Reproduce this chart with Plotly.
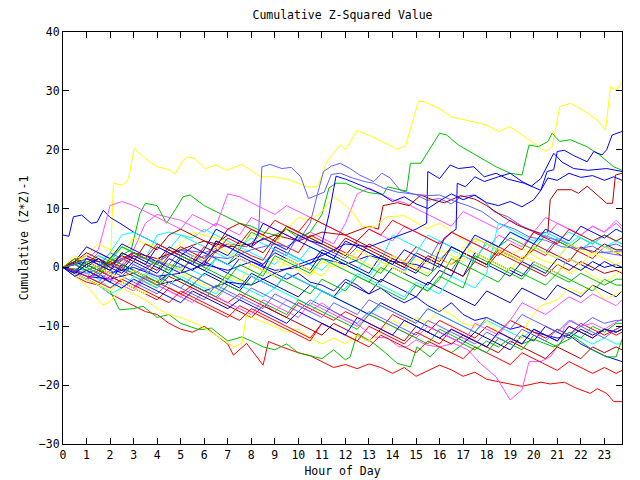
import plotly.graph_objects as go

# ---------------- data ----------------
HALF_HOURS = [0, 0.5, 1, 1.5, 2, 2.5, 3, 3.5, 4, 4.5, 5, 5.5, 6, 6.5, 7, 7.5, 8, 8.5, 9, 9.5,
              10, 10.5, 11, 11.5, 12, 12.5, 13, 13.5, 14, 14.5, 15, 15.5, 16, 16.5, 17, 17.5,
              18, 18.5, 19, 19.5, 20, 20.5, 21, 21.5, 22, 22.5, 23, 23.5, 23.75]

X_TICKS = list(range(0, 24))
Y_TICKS = [-30, -20, -10, 0, 10, 20, 30, 40]

# traced outlier series (x breakpoints, y values)
yellow_top_x = [0, 0.5, 1, 1.5, 2.0, 2.14, 2.5, 2.7, 2.8, 3.02, 3.5, 4.0, 4.5, 4.76, 5.1, 5.3, 5.6, 6.04, 6.5, 6.96,
                7.6, 8.2, 8.4, 9.0, 9.65, 10.36, 10.8, 11.07, 11.2, 11.78, 12.0, 12.5, 13.3, 14.2, 14.55, 15.1, 15.3,
                16.0, 16.5, 17.7, 18.0, 18.5, 19.0, 19.4, 20.0, 20.5, 20.78, 21.1, 21.56, 22.1, 22.7, 23.05, 23.26,
                23.5, 23.75]
yellow_top_y = [0, 1, 0.5, -0.5, -1, 14.3, 14, 14.5, 15.4, 20.2, 18.5, 17.1, 16.6, 15.9, 18.2, 18.8, 18.5, 16.8, 17.4,
                16.5, 17.5, 16, 15.4, 15.4, 14.85, 13.7, 13.7, 16.3, 18, 20.8, 20, 23.3, 21.9, 20.1, 20.6, 28.2, 28.2,
                27, 25.6, 24.5, 24.2, 23.1, 23.9, 22.8, 21.1, 19.7, 20.5, 27.3, 27.9, 26.7, 25.05, 23.3, 30.7, 30.1,
                31.5]

medblue_a_x = [0, 1, 2, 3, 4, 5, 6, 7, 7.8, 8.3, 8.45, 8.8, 9.3, 9.7, 10.1, 10.43, 10.8, 11.07, 11.4, 11.78, 12.2,
               12.6, 13.2, 13.55, 13.9, 14.33, 15.04, 15.46, 16, 16.5, 16.9, 17.45, 17.9, 18.3, 18.9, 19.5, 20, 20.6,
               21.2, 21.8, 22.5, 23, 23.75]
medblue_a_y = [0, 1.5, 0.5, 2, 1, 3, 2.5, 4, 3.5, 5.2, 17.1, 17.5, 16.8, 17, 15.4, 11.7, 12.3, 16.3, 17.2, 17.7, 16.8,
               15.7, 14.6, 16, 15.2, 13.1, 12.3, 11.4, 11.7, 10.8, 12, 12.3, 11.2, 9.5, 8.6, 7, 6.2, 5, 4.5, 3.2, 3.6,
               2.5, 2]

medblue_b_x = [0, 1, 2, 3, 4, 5, 6, 7, 8, 9, 9.5, 10.1, 10.5, 10.8, 11.1, 11.4, 11.78, 12.3, 12.8, 13.2, 13.6, 14.2,
               14.8, 15.5, 16, 16.6, 17.2, 17.8, 18.5, 19.2, 19.8, 20.5, 21.2, 22, 22.8, 23.75]
medblue_b_y = [0, -1, 0.5, -1, 1, 0, 2, 1.5, 3, 4, 3.5, 5, 7.5, 12.3, 12.8, 15.8, 16, 15.2, 14.6, 14.3, 13.5, 12.8,
               12.5, 12.2, 12.3, 11.3, 10.5, 9.5, 7.5, 6.5, 5.2, 4.6, 3.5, 3.2, 2.5, 2.8]

blue_hi_x = [0, 1, 2, 3, 4, 5, 6, 7, 8, 9, 10, 11, 12, 13, 14, 15, 15.45, 15.5, 16, 16.45, 16.8, 17.45, 17.9, 18.4,
             18.9, 19.6, 20.3, 20.57, 20.85, 21, 21.3, 21.7, 22.27, 22.55, 22.9, 23.1, 23.33, 23.75]
blue_hi_y = [0, -1.5, -2, -1, -3, -2, -4, -2.5, -3, -1, 0.5, 2, 4, 3.5, 5, 6.5, 7.5, 16.3, 15.1, 17.4, 16.8, 17.1,
             15.4, 16, 15, 14.3, 13.1, 16.3, 16.6, 19.7, 19.9, 19, 17.95, 19.7, 19.1, 20, 22.5, 23.1]

blue_b_x = [0, 1, 2, 3, 4, 5, 6, 7, 8, 9, 10, 11, 12, 13, 14, 15, 15.7, 15.9, 16.2, 16.7, 16.75, 17.1, 17.5, 17.9,
            18.5, 19, 19.5, 19.9, 20.3, 20.85, 21.2, 21.7, 22.3, 23.1, 23.75]
blue_b_y = [0, 1, -1, 0, -1.5, -1, 0.5, -0.5, 1, -0.5, 0, 1.5, 0.5, 2, 1, 0.5, -0.5, 2, 5, 6.5, 14.3, 13.7, 15.4,
            14.6, 15.4, 16, 14.6, 13.8, 15.1, 19.4, 17.9, 16.8, 16.5, 16.8, 16.3]

blue_c_x = [0, 0.5, 1, 1.5, 2, 2.5, 3, 3.5, 4, 4.5, 5, 5.5, 6, 6.5, 7, 7.5, 8, 8.5, 9, 9.5, 10, 10.5, 11, 11.3, 11.6,
            12, 12.5, 13, 13.5, 14, 14.5, 15, 15.5, 16, 16.5, 17, 17.5, 18, 18.5, 19, 19.5, 20, 20.3, 20.6, 21, 21.5,
            22, 22.5, 23, 23.4, 23.75]
blue_c_y = [0, -1, 0.5, 1.5, 0, -1, 1, 0, -1, 1.5, 0.5, -0.5, 1, 3, 2, 4.5, 3.5, 5, 4, 3, 5.5, 4.5, 4, 9, 15.5, 15,
            14.2, 13.4, 12.5, 11.2, 12, 10.8, 10, 11.3, 12.5, 11.5, 12.3, 11, 10.5, 11.2, 10.3, 11.5, 13.1, 15.2, 14.8,
            16, 15.3, 15.6, 14.8, 15.4, 14.8]

green_hi_x = [0, 1, 2, 2.9, 3.27, 3.5, 4.0, 4.4, 4.8, 5.1, 5.4, 6, 6.5, 7, 7.5, 8, 8.5, 9, 9.5, 10, 10.5, 11, 11.3,
              11.6, 12, 12.5, 13, 13.6, 13.8, 14.3, 14.6, 14.76, 15.2, 16, 16.3, 16.8, 17.7, 18.4, 19, 19.5, 19.8,
              20.2, 20.6, 20.78, 21.1, 21.55, 22.27, 22.8, 23.4, 23.75]
green_hi_y = [0, -0.5, 1, 3, 9.2, 10.9, 10.5, 7.5, 10, 12, 12.3, 10.5, 9.5, 8.5, 7.5, 7, 6, 5.5, 6.5, 5, 6, 9, 13.5,
              14.3, 14.3, 13.4, 12.7, 12.4, 13.7, 13.2, 13, 17.7, 17.7, 22.8, 22.5, 20.8, 18.8, 17.1, 16, 15.7, 20.8,
              20.5, 21.4, 22.8, 21.4, 21.7, 20.5, 19.1, 17.1, 16.5]

darkred_hi_x = [0, 1, 2, 3, 4, 5, 6, 7, 8, 9, 10, 11, 12, 13, 13.4, 13.6, 14.2, 14.7, 15.2, 15.7, 16.2, 16.9, 17.5,
                18, 18.7, 19.3, 19.8, 20.3, 20.6, 20.7, 20.85, 21, 21.6, 21.9, 22.27, 22.7, 23.1, 23.35, 23.47, 23.75]
darkred_hi_y = [0, 1.5, 0.5, 2.5, 1.5, 3, 4.5, 3.5, 4, 5.5, 4.5, 6, 5.5, 7, 6.5, 10.5, 11, 10.5, 12.3, 11.5, 11,
                12.2, 11.6, 10.5, 8.6, 7.2, 6.4, 5.8, 6, 11.5, 12.3, 13.2, 13.2, 12.6, 13.8, 12.3, 10.9, 10.9, 15.7, 16]

magenta_low_x = [0, 0.5, 1, 1.3, 2, 2.5, 3, 3.4, 4, 4.5, 5, 5.5, 6, 6.5, 7, 7.5, 8, 8.5, 9, 9.5, 10, 10.5, 11, 11.5,
                 12, 12.3, 13.2, 13.8, 14.26, 14.6, 15.0, 15.46, 16, 16.6, 17.2, 17.73, 18.4, 19, 19.5, 19.8, 20.3,
                 20.7, 21.2, 21.3, 21.6, 22, 22.5, 23, 23.4, 23.75]
magenta_low_y = [0, -1, -2, 0.5, -1.5, -2.5, -3.5, -1.5, -3, -4, -5, -3.5, -4.5, -5.5, -3, -4, -5, -6, -7.5, -5.5,
                 -6.5, -7.5, -6, -7.5, -8.6, -9, -11.8, -12, -13.5, -13.5, -12.3, -13.2, -13.5, -12.9, -14, -16.3,
                 -18.6, -22.5, -20.8, -16, -16, -15.2, -12.3, -10, -9, -10, -9.5, -10.5, -9.5, -8.8]

red_low_x = [0, 0.5, 1, 1.5, 2, 2.5, 3, 3.5, 4, 4.5, 5, 5.5, 6, 6.5, 7, 7.24, 7.8, 8.5, 8.73, 9.3, 10, 10.5, 11, 11.5,
             12, 12.5, 13, 13.5, 14, 14.5, 15, 15.5, 16, 16.5, 17, 17.5, 18, 18.6, 19.5, 20.3, 20.7, 21.3, 21.8, 22.4,
             22.7, 23.1, 23.4, 23.75]
red_low_y = [0, -1.5, -2.5, -3, -4.5, -5.5, -6.5, -7.5, -8, -9.5, -10.5, -11, -10, -11.5, -13, -14.9, -12.9, -16.6,
             -12.6, -13.5, -14.5, -15, -16, -17, -16.5, -17.2, -16.4, -17, -18, -17, -18.5, -17.5, -16.6, -17.4,
             -18.5, -17.8, -19, -19.5, -20.2, -19.5, -19.8, -19.5, -20.5, -21.4, -20.6, -21.4, -22.8, -22.8]

blue_start_x = [0, 0.25, 0.44, 0.79, 1.2, 1.45, 1.71, 2, 2.42, 3, 3.5, 4, 4.5, 5, 5.5, 6, 6.5, 7, 7.5, 8, 8.5, 9,
                9.5, 10, 10.5, 11, 11.5, 12, 12.5, 13, 13.5, 14, 14.5, 15, 15.5, 16, 16.5, 17, 17.5, 18, 18.5, 19,
                19.5, 20, 20.5, 21, 21.5, 22, 22.5, 23, 23.75]
blue_start_y = [5.5, 5.3, 8.6, 8.9, 7.5, 7.7, 9.7, 8.5, 7.5, 6, 5, 4, 3, 2, 3.5, 2.5, 1.5, 0.5, 2, 1, 0, -1, -2, -1,
                -2.5, -3, -4, -2, -3, -4.5, -3.5, -5, -6, -5, -6.5, -7.5, -6, -8, -9, -8.5, -9.5, -10.5, -10, -11,
                -11.5, -12, -11.5, -13, -14, -15, -16]

green_low_x = [0, 0.5, 1, 1.5, 2, 2.4, 3, 3.4, 4, 4.5, 5, 5.8, 6.3, 7, 7.6, 8, 8.5, 9, 9.5, 10, 10.5, 11, 11.5, 12,
               12.2, 12.5, 13.2, 13.7, 14.2, 14.76, 15.04, 15.6, 16, 16.5, 17, 17.5, 18, 18.5, 19, 19.5, 20, 20.85,
               21.7, 22.5, 23.1, 23.5, 23.75]
green_low_y = [0, -1, -2, -3, -4, -7.2, -7, -6.6, -8.5, -8, -9.5, -10.6, -10.3, -12.5, -11.8, -12.5, -13.5, -14,
               -13, -14.5, -15, -15.5, -14, -15.7, -15.2, -11.2, -12.9, -14.5, -16.3, -16.9, -13.5, -15.2, -13.5,
               -14.5, -13, -14, -12.5, -13.5, -12, -13, -12.2, -13.5, -11.8, -14, -15.2, -15.2, -12.2]

yellow_low_x = [0, 0.5, 1, 1.5, 1.7, 2, 2.5, 3, 3.5, 4, 4.5, 5, 5.8, 6.5, 7.24, 7.6, 7.8, 8.3, 9, 9.5, 10, 10.5, 11,
                11.5, 12, 12.5, 13, 13.5, 14, 14.5, 15, 15.5, 16, 16.5, 17, 17.5, 18, 18.5, 19, 19.4, 19.8, 20.3, 21,
                21.5, 22, 22.5, 23, 23.75]
yellow_low_y = [0, -1.5, -3, -5.5, -6.4, -5.8, -3.5, -4.5, -5.5, -7, -8, -8.5, -9.8, -11.5, -13.5, -12.9, -8, -9,
                -10, -11, -10.5, -12, -13, -12, -13, -11.5, -12.5, -11, -9, -10, -8.5, -9.5, -7, -8, -9.5, -10, -9,
                -11, -12, -12.3, -9, -6.5, -5.5, -3.5, -4.5, -3, -5.5, -4]

yellow_mid_x = [0, 0.5, 1, 1.5, 2, 2.5, 3, 3.5, 4, 4.5, 5, 5.5, 6, 6.5, 7, 7.5, 8, 8.5, 9, 9.5, 10, 10.5, 11, 11.5,
                11.8, 12.35, 12.7, 13.2, 13.76, 14.5, 15.46, 16, 16.74, 17.2, 17.7, 18.4, 18.9, 19.5, 20, 20.5, 21,
                21.5, 22, 22.5, 23, 23.75]
yellow_mid_y = [0, 1, 2, 4, 3, 2.5, 5, 4, 3.5, 2.5, 4, 6, 5.5, 5, 4, 3.5, 5.5, 5, 4, 6.5, 8.5, 8, 9.5, 12, 11.2, 9.2,
                7, 6.8, 8.6, 8.8, 6.6, 7.5, 5.5, 4, 4.6, 3, 1.8, 3.2, 2, 1, 0.5, -1, 0, -1.5, -2.5, -0.5]

# series sampled on the half-hour grid
s01 = [0, 0.8, 1.5, 0.5, -0.5, 1.2, 2.5, 1.5, 0.5, 3.0,
       2.0, 1.0, 0.2, 2.8, 4.0, 3.0, 2.0, 1.2, 4.5, 3.5,
       2.5, 5.5, 4.5, 3.5, 2.5, 1.5, 4.0, 3.0, 2.0, 1.0,
       3.5, 2.5, 1.5, 0.5, 2.0, 1.0, 4.5, 3.5, 2.5, 1.5,
       3.0, 2.0, 4.5, 3.5, 2.5, 1.5, 3.5, 2.5, 2.0]
s02 = [0, -0.5, 0.8, 2.0, 1.0, 3.5, 2.5, 1.5, 0.5, 2.5,
       1.5, 0.5, -0.5, 1.5, 0.5, 3.0, 6.0, 5.0, 4.0, 7.0,
       6.0, 5.0, 4.0, 3.0, 2.0, 1.0, 0.0, -1.0, 1.5, 0.5,
       -0.5, -1.5, 0.5, -0.5, 2.5, 1.5, 0.5, 3.5, 5.0, 4.0,
       3.0, 5.5, 4.5, 3.5, 5.0, 4.0, 5.5, 4.5, 4.0]
s03 = [0, -1.0, -2.0, -1.0, -2.5, 0.5, -0.5, -1.5, 1.0, 0.0,
       -1.0, 2.0, 1.0, 0.0, -1.0, 1.5, 0.5, -0.5, 3.5, 2.5,
       1.5, 0.5, 3.0, 2.0, 1.0, 0.0, -1.0, 2.0, 1.0, 0.0,
       -1.0, 1.5, 0.5, -0.5, -1.5, 2.5, 1.5, 0.5, -0.5, -1.5,
       1.0, 0.0, -1.0, 1.5, 0.5, -0.5, 1.0, 0.0, 0.0]
s04 = [0, 1.5, 0.5, 2.5, 1.5, 0.5, 3.0, 7.5, 9.0, 8.5,
       8.0, 7.0, 6.0, 7.5, 6.5, 5.5, 8.5, 7.5, 6.5, 5.5,
       4.5, 6.0, 5.0, 4.0, 7.5, 12.5, 13.5, 12.5, 11.5, 11.0,
       10.0, 9.0, 8.0, 7.0, 9.5, 8.5, 7.5, 6.5, 8.0, 7.0,
       6.0, 8.5, 7.5, 6.5, 5.5, 7.0, 6.0, 8.0, 7.0]
s05 = [0, 1.0, 0.0, 2.0, 1.0, 3.5, 2.5, 1.5, 5.5, 6.0,
       5.5, 5.0, 6.5, 5.5, 4.5, 3.5, 5.0, 4.0, 3.0, 2.0,
       1.0, 3.5, 2.5, 1.5, 0.5, -0.5, 2.0, 1.0, 5.5, 4.5,
       3.5, 2.5, 1.5, 3.0, 2.0, 1.0, 4.5, 3.5, 6.0, 5.0,
       4.0, 5.5, 4.5, 6.0, 5.0, 4.0, 5.5, 4.5, 5.0]
s06 = [0, 1.0, 2.0, 1.0, 0.0, 2.5, 1.5, 0.5, -0.5, 2.0,
       3.5, 2.5, 1.5, 4.0, 5.5, 4.5, 3.5, 2.5, 5.0, 6.5,
       5.5, 4.5, 3.5, 2.5, 5.0, 4.0, 3.0, 2.0, 1.0, 0.0,
       2.5, 1.5, 0.5, -0.5, -1.5, 1.0, 0.0, 2.5, 1.5, 0.5,
       -0.5, -1.5, 0.5, -0.5, 1.0, 0.0, -1.0, -0.5, -1.0]
s07 = [0, 2.0, 1.0, 0.0, -1.0, -2.0, -0.5, -1.5, 1.5, 0.5,
       -0.5, 2.0, 1.0, 3.5, 2.5, 1.5, 0.5, -0.5, 1.5, 0.5,
       -0.5, -1.5, 1.0, 0.0, 2.5, 1.5, 0.5, -0.5, 2.0, 1.0,
       0.0, -1.0, 1.5, 0.5, 3.5, 2.5, 1.5, 0.5, -0.5, 2.0,
       1.0, 0.0, -1.0, 1.5, 0.5, 2.5, 1.5, 0.5, 1.0]
s08 = [0, -0.5, 1.0, 0.0, 2.5, 1.5, 0.5, -0.5, 1.5, 0.5,
       3.0, 2.0, 1.0, 4.5, 3.5, 2.5, 1.5, 0.5, 3.0, 2.0,
       5.5, 4.5, 3.5, 2.5, 1.5, 3.5, 2.5, 1.5, 0.5, -0.5,
       2.0, 1.0, 4.5, 3.5, 2.5, 5.0, 4.0, 3.0, 2.0, 1.0,
       3.5, 2.5, 5.0, 4.0, 3.0, 4.5, 3.5, 4.0, 3.5]
s09 = [0, -1.0, 0.5, -0.5, -1.5, 0.5, -0.5, -1.5, -2.5, -1.0,
       -2.0, -3.0, -1.0, -2.0, -3.0, -4.0, -1.5, -2.5, -3.5, -1.0,
       -2.0, -3.0, -4.0, -5.0, -2.5, -3.5, -4.5, -2.0, -3.0, -4.0,
       -5.0, -2.5, -3.5, -4.5, -5.5, -6.5, -4.0, -5.0, -6.0, -3.5,
       -4.5, -5.5, -3.0, -4.0, -5.0, -3.0, -4.0, -5.0, -4.0]
s10 = [0, -1.0, -2.0, -0.5, -1.5, -2.5, -3.5, -1.5, -2.5, -3.5,
       -4.5, -3.0, -4.0, -5.0, -6.0, -4.5, -5.5, -6.5, -7.5, -8.5,
       -6.0, -7.0, -8.0, -9.0, -7.5, -8.5, -9.5, -10.5, -8.0, -9.0,
       -10.0, -11.0, -9.0, -10.0, -11.0, -12.0, -10.0, -11.0, -9.0, -10.0,
       -11.0, -12.0, -10.5, -11.5, -9.5, -10.5, -11.5, -10.5, -10.0]
s11 = [0, 1.0, 0.0, -1.0, 1.5, 0.5, -0.5, -1.5, -2.5, 0.5,
       -0.5, -1.5, -2.5, -3.5, -1.0, -2.0, -3.0, -0.5, -1.5, -2.5,
       -3.5, -4.5, -2.0, -3.0, -4.0, -1.5, -2.5, -3.5, -4.5, -5.5,
       -3.0, -4.0, -2.0, 1.5, 0.5, -0.5, -1.5, -2.5, 0.0, -1.0,
       -2.0, -3.0, -1.0, -2.0, -3.0, -4.0, -2.0, -3.0, -3.0]
s12 = [0, -1.5, -0.5, -1.5, -2.5, -3.5, -2.0, -3.0, -4.0, -5.0,
       -6.0, -4.0, -5.0, -6.0, -7.0, -5.5, -6.5, -7.5, -8.5, -9.5,
       -7.5, -8.5, -9.5, -10.5, -11.5, -8.5, -9.5, -10.5, -11.5, -9.0,
       -10.0, -11.0, -12.0, -10.5, -11.5, -12.5, -13.5, -11.0, -12.0, -13.0,
       -10.5, -11.5, -12.5, -10.0, -11.0, -12.0, -10.5, -11.0, -10.5]
s13 = [0, 0.5, 1.5, 3.0, 10.5, 11.2, 10.5, 9.5, 8.5, 7.5,
       6.5, 9.0, 8.0, 7.0, 12.5, 12.0, 11.0, 10.0, 9.0, 10.5,
       9.5, 8.5, 7.5, 6.5, 5.5, 4.5, 6.5, 5.5, 4.5, 7.0,
       6.0, 5.0, 4.0, 6.0, 5.0, 4.0, 3.0, 5.5, 4.5, 3.5,
       6.0, 5.0, 7.5, 6.5, 5.5, 7.0, 6.0, 7.5, 6.5]
s14 = [0, 1.0, -1.0, -2.0, -3.5, -2.5, -3.5, -1.0, -2.0, -3.0,
       -1.5, -2.5, -3.5, -4.5, -2.0, -3.0, -4.0, -5.0, -3.5, -4.5,
       -5.5, -6.5, -4.0, -5.0, -6.0, -7.0, -8.0, -6.5, -7.5, -8.5,
       -9.5, -7.0, -8.0, -9.0, -10.0, -11.0, -9.0, -10.0, -11.0, -12.0,
       -10.5, -11.5, -12.5, -11.0, -12.0, -13.0, -12.0, -13.0, -13.0]
s15 = [0, 0.5, -0.5, -1.5, 0.5, -0.5, -1.5, -2.5, -3.5, -1.5,
       -2.5, -3.5, -4.5, -5.5, -6.5, -7.5, -8.5, -6.5, -7.5, -8.5,
       -9.5, -10.5, -11.5, -9.5, -10.5, -11.5, -12.5, -10.5, -11.5, -12.5,
       -10.0, -11.0, -12.0, -13.0, -11.5, -12.5, -13.5, -14.5, -12.5, -13.5,
       -14.5, -15.5, -13.5, -14.5, -15.5, -13.5, -14.5, -13.5, -14.0]
s16 = [0, -1.0, -2.0, -3.0, -4.0, -2.5, -3.5, -4.5, -2.0, -3.0,
       -1.0, -2.0, -3.0, -4.0, -1.5, -2.5, 0.5, -0.5, -1.5, 1.5,
       0.5, -0.5, -1.5, 1.0, 0.0, 3.0, 2.0, 1.0, 0.0, -1.0,
       1.5, 0.5, 3.0, 2.0, 1.0, 5.0, 4.0, 3.0, 2.0, 1.0,
       3.5, 2.5, 1.5, 4.0, 3.0, 2.0, 3.5, 2.5, 2.5]
s17 = [0, -0.5, -1.5, -2.5, -0.5, -1.5, -2.5, -3.5, -4.5, -2.5,
       -3.5, -4.5, -5.5, -3.0, -4.0, -5.0, -6.0, -7.0, -4.5, -5.5,
       -6.5, -7.5, -8.5, -6.0, -7.0, -8.0, -5.5, -6.5, -7.5, -8.5,
       -9.5, -7.0, -8.0, -9.0, -10.0, -11.0, -8.5, -9.5, -10.5, -8.0,
       -9.0, -10.0, -11.0, -9.0, -10.0, -8.5, -9.5, -9.0, -9.0]
s18 = [0, 1.0, 0.0, 1.5, 0.5, -0.5, 2.0, 1.0, 0.0, -1.0,
       1.5, 0.5, -0.5, -1.5, -2.5, -3.5, -1.0, -2.0, -3.0, -4.0,
       -5.0, -3.0, -4.0, -5.0, -6.0, -7.0, -8.0, -6.0, -7.0, -8.0,
       -9.0, -10.0, -11.0, -12.0, -13.0, -11.0, -12.0, -13.0, -14.0, -11.5,
       -12.5, -10.0, -11.0, -12.0, -10.5, -11.5, -10.5, -11.0, -10.5]
s19 = [0, -1.0, -2.0, -3.0, -1.5, -2.5, -3.5, -4.5, -5.5, -3.5,
       -4.5, -5.5, -6.5, -7.5, -8.5, -6.5, -7.5, -8.5, -9.5, -10.5,
       -11.5, -12.5, -9.5, -10.5, -11.5, -12.5, -10.0, -11.0, -12.0, -13.0,
       -11.0, -12.0, -13.0, -10.5, -11.5, -12.5, -13.5, -11.0, -12.0, -13.0,
       -10.5, -11.5, -12.5, -10.0, -11.0, -12.0, -10.5, -11.5, -11.0]
s20 = [0, 0.5, -0.5, -1.5, 1.0, 0.0, -1.0, -2.0, -3.0, -1.0,
       -2.0, -3.0, -4.0, -5.0, -3.0, -4.0, -5.0, -6.0, -7.0, -8.0,
       -5.5, -6.5, -7.5, -8.5, -9.5, -10.5, -8.0, -9.0, -10.0, -11.0,
       -12.0, -13.0, -10.5, -11.5, -12.5, -13.5, -14.5, -12.0, -13.0, -14.0,
       -11.5, -12.5, -13.5, -11.0, -12.0, -10.0, -11.0, -9.5, -9.5]
s21 = [0, -1.0, 1.5, 0.5, -0.5, 2.5, 1.5, 0.5, 3.5, 2.5,
       1.5, 0.5, 3.0, 6.5, 5.5, 4.5, 3.5, 7.5, 6.5, 5.5,
       4.5, 3.5, 2.5, 1.5, 4.5, 3.5, 2.5, 1.5, 0.5, 3.0,
       2.0, 1.0, 0.0, 3.5, 2.5, 5.5, 4.5, 3.5, 6.0, 5.0,
       4.0, 6.5, 5.5, 4.5, 7.0, 6.0, 5.0, 6.5, 6.0]
s22 = [0, 0.5, 1.5, 0.5, 2.5, 5.5, 6.0, 5.0, 4.0, 3.0,
       5.5, 4.5, 3.5, 2.5, 1.5, 3.5, 2.5, 1.5, 0.5, 2.5,
       1.5, 0.5, -0.5, 1.5, 0.5, -0.5, -1.5, 1.0, 0.0, -1.0,
       2.5, 5.5, 4.5, 3.5, 2.5, 1.5, 4.0, 3.0, 2.0, 1.0,
       3.5, 2.5, 1.5, 4.0, 3.0, 4.5, 3.5, 3.0, 3.0]
s23 = [0, -0.5, -1.5, -2.5, -3.5, -2.0, -3.0, -4.0, -5.0, -6.0,
       -4.0, -5.0, -6.0, -7.0, -8.0, -9.0, -7.0, -8.0, -9.0, -10.0,
       -11.0, -12.0, -9.5, -10.5, -11.5, -12.5, -13.5, -11.5, -12.5, -13.5,
       -14.5, -12.5, -13.5, -14.5, -15.5, -13.5, -14.5, -15.5, -16.5, -14.5,
       -15.5, -16.5, -17.5, -16.0, -17.0, -18.0, -17.0, -18.0, -17.5]
s24 = [0, 1.5, 0.5, -0.5, 1.5, 3.5, 2.5, 1.5, 0.5, -0.5,
       2.0, 1.0, 0.0, -1.0, -2.0, 0.5, -0.5, -1.5, 2.0, 1.0,
       0.0, -1.0, 1.5, 0.5, -0.5, -1.5, -2.5, 0.0, -1.0, -2.0,
       -3.0, -4.0, -1.5, -2.5, -3.5, 2.0, 1.0, 0.0, -1.0, -2.0,
       0.5, -0.5, -1.5, -2.5, -1.0, -2.0, -3.0, -2.0, -2.0]
s25 = [0, -1.0, -2.0, -1.0, -2.0, -3.0, -4.0, -2.0, -3.0, -4.0,
       -5.0, -6.0, -4.0, -5.0, -6.0, -7.0, -8.0, -5.5, -6.5, -7.5,
       -8.5, -6.0, -7.0, -8.0, -9.0, -10.0, -8.0, -9.0, -10.0, -11.0,
       -12.0, -10.0, -11.0, -12.0, -13.0, -9.5, -10.5, -11.5, -9.0, -6.0,
       -7.0, -8.0, -6.5, -5.0, -6.0, -4.5, -5.5, -6.5, -5.5]
s26 = [0, 1.0, 2.5, 1.5, 0.5, 2.0, 1.0, 4.0, 3.0, 5.5,
       6.5, 5.5, 4.5, 3.5, 6.5, 7.5, 6.5, 5.5, 4.5, 7.0,
       6.0, 5.0, 4.0, 3.0, 2.0, 4.5, 3.5, 2.5, 1.5, 0.5,
       -0.5, 2.0, 1.0, 3.5, 2.5, 1.5, 0.5, 3.0, 2.0, 1.0,
       4.0, 3.0, 2.0, 1.0, 3.5, 2.5, 4.0, 3.0, 3.0]
s27 = [0, -1.0, -2.0, -3.0, -4.5, -3.5, -1.5, -2.5, -3.5, -1.0,
       0.5, -0.5, -1.5, 1.5, 0.5, -0.5, -1.5, -2.5, -3.5, -1.0,
       -2.0, -3.0, -4.0, -5.0, -3.5, -1.0, -2.0, -3.0, -4.0, -5.0,
       -2.5, -3.5, -4.5, -1.5, -2.5, -3.5, -1.0, 7.5, 6.5, 5.5,
       4.5, 6.0, 5.0, 4.0, 5.5, 4.5, 3.5, 4.5, 4.0]
s28 = [0, 1.0, 3.5, 2.5, 1.5, 4.0, 3.0, 2.0, 1.0, 3.5,
       2.5, 1.5, 0.5, 4.5, 3.5, 2.5, 1.5, 0.5, 2.5, 1.5,
       0.5, -0.5, 2.5, 1.5, 0.5, -0.5, -1.5, -2.5, 0.0, -1.0,
       -2.0, -3.0, -0.5, -1.5, 2.5, 1.5, 0.5, -0.5, -1.5, 1.0,
       0.0, -1.0, 1.5, 0.5, -0.5, 1.0, 0.0, 0.5, 0.0]
s29 = [0, 0.5, 1.5, 0.5, -0.5, -1.5, 0.5, -0.5, -1.5, -2.5,
       -3.5, -1.5, -2.5, -3.5, -4.5, -5.5, -3.5, -4.5, -5.5, -6.5,
       -7.5, -5.5, -6.5, -7.5, -8.5, -9.5, -7.5, -8.5, -9.5, -10.5,
       -11.5, -9.0, -10.0, -11.0, -12.0, -13.0, -11.0, -12.0, -13.0, -10.5,
       -11.5, -12.5, -10.5, -11.5, -10.0, -11.0, -12.0, -10.5, -10.0]
s30 = [0, 1.5, 0.5, -0.5, 1.0, 0.0, 2.5, 1.5, 4.0, 3.0,
       2.0, 1.0, 3.5, 2.5, 5.0, 4.0, 6.5, 5.5, 8.0, 7.0,
       6.0, 8.5, 7.5, 6.5, 5.5, 4.5, 6.5, 5.5, 8.0, 7.0,
       6.0, 5.0, 4.0, 6.0, 5.0, 4.0, 3.0, 2.0, 4.0, 3.0,
       6.0, 5.0, 4.0, 6.5, 5.5, 4.5, 5.5, 4.5, 5.0]

# colours of the old gnuplot png terminal
RED, GREEN, BLUE, MAGENTA, CYAN = "#ff0000", "#00c000", "#0000ff", "#ff50ff", "#00ffff"
DARKRED, YELLOW, MEDBLUE, DARKBLUE = "#b00000", "#ffff00", "#6060ff", "#0000b0"

SERIES = [
    (HALF_HOURS, s01, RED), (HALF_HOURS, s02, GREEN), (HALF_HOURS, s03, BLUE),
    (HALF_HOURS, s04, MAGENTA), (HALF_HOURS, s05, CYAN), (HALF_HOURS, s06, DARKRED),
    (yellow_top_x, yellow_top_y, YELLOW), (medblue_a_x, medblue_a_y, MEDBLUE),
    (HALF_HOURS, s09, DARKBLUE), (red_low_x, red_low_y, RED), (green_hi_x, green_hi_y, GREEN),
    (blue_start_x, blue_start_y, BLUE), (HALF_HOURS, s13, MAGENTA), (HALF_HOURS, s14, CYAN),
    (darkred_hi_x, darkred_hi_y, DARKRED), (yellow_mid_x, yellow_mid_y, YELLOW),
    (HALF_HOURS, s08, MEDBLUE), (HALF_HOURS, s18, DARKBLUE), (HALF_HOURS, s10, RED),
    (green_low_x, green_low_y, GREEN), (blue_hi_x, blue_hi_y, BLUE), (magenta_low_x, magenta_low_y, MAGENTA),
    (HALF_HOURS, s22, CYAN), (HALF_HOURS, s15, DARKRED), (yellow_low_x, yellow_low_y, YELLOW),
    (medblue_b_x, medblue_b_y, MEDBLUE), (HALF_HOURS, s28, DARKBLUE), (HALF_HOURS, s19, RED),
    (HALF_HOURS, s11, GREEN), (blue_b_x, blue_b_y, BLUE), (HALF_HOURS, s25, MAGENTA),
    (HALF_HOURS, s27, CYAN), (HALF_HOURS, s26, DARKRED), (HALF_HOURS, s16, YELLOW),
    (HALF_HOURS, s17, MEDBLUE), (HALF_HOURS, s23, RED),
    (HALF_HOURS, s20, GREEN), (HALF_HOURS, s12, BLUE), (HALF_HOURS, s07, YELLOW),
    (HALF_HOURS, s29, MEDBLUE), (HALF_HOURS, s30, RED), (HALF_HOURS, s24, GREEN),
    (HALF_HOURS, s21, BLUE), (blue_c_x, blue_c_y, BLUE),
]

FONT = "DejaVu Sans Mono"

fig = go.Figure()
for xs, ys, col in SERIES:
    fig.add_trace(go.Scatter(x=xs, y=ys, mode="lines",
                             line=dict(color=col, width=1), hoverinfo="skip"))

axis_common = dict(showgrid=False, zeroline=False, showline=True, linecolor="black", linewidth=1,
                   mirror="ticks", ticks="inside", ticklen=6, tickcolor="black", tickwidth=1,
                   automargin=False,
                   tickfont=dict(family=FONT, size=11.5, color="black"))

# the page body adds an 8 px offset, so the figure is 632x472 and margins are shifted accordingly
fig.update_layout(
    width=632, height=472, autosize=False,
    margin=dict(l=55, r=18, t=24, b=36, autoexpand=False),
    paper_bgcolor="white", plot_bgcolor="white", showlegend=False,
    title=dict(text="Cumulative Z-Squared Value", x=0.5, xref="paper", xanchor="center",
               y=1 - 7 / 472, yref="container", yanchor="middle", automargin=False,
               font=dict(family=FONT, size=11.5, color="black")),
    xaxis=dict(range=[0, 23.75], tickvals=X_TICKS, ticktext=[str(t) for t in X_TICKS],
               title=dict(text="Hour of Day", standoff=6, font=dict(family=FONT, size=11.5, color="black")),
               **axis_common),
    yaxis=dict(range=[-30, 40], tickvals=Y_TICKS,
               title=dict(text="Cumulative (Z*Z)-1", standoff=7, font=dict(family=FONT, size=11.5, color="black")),
               **axis_common),
)

fig.write_html("out.html")
